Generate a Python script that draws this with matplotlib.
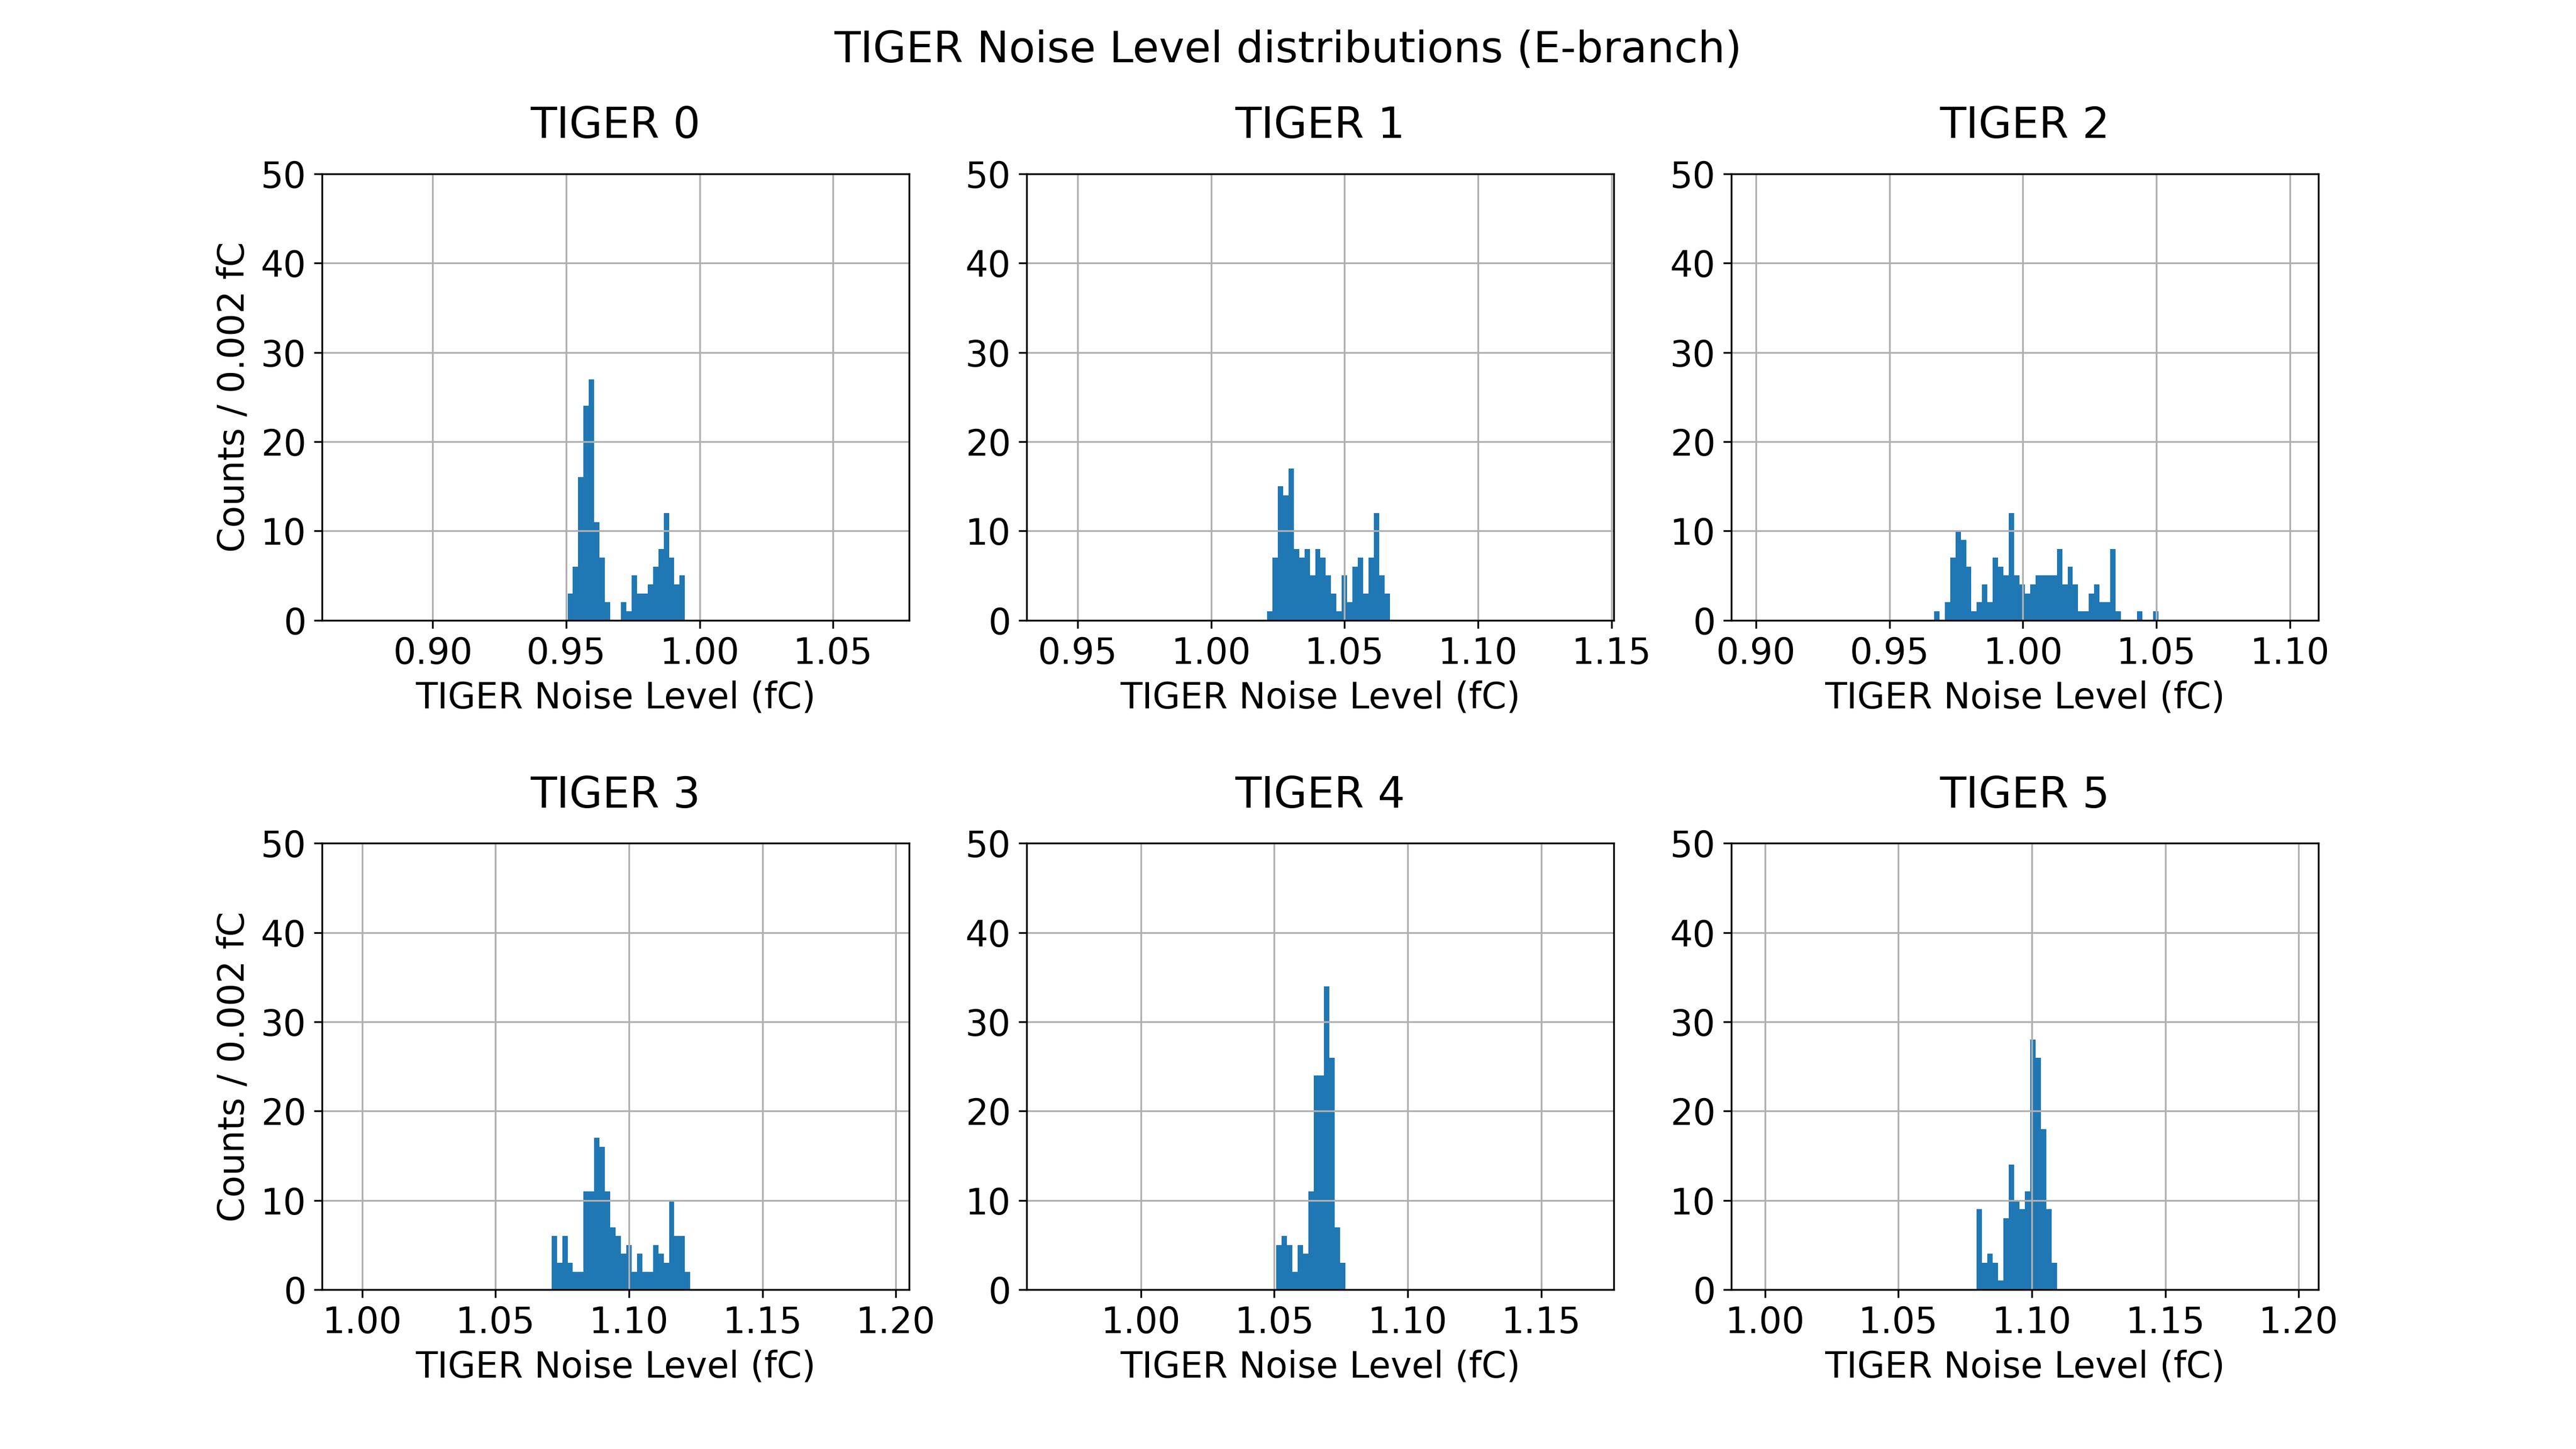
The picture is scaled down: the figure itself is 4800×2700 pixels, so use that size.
import numpy as np
import matplotlib
matplotlib.use('Agg')
import matplotlib.pyplot as plt

## TIGER noise level histograms (E-branch), counts per 0.002 fC bin

bin_width = 0.002
tiger_ids = [0, 1, 2, 3, 4, 5]

# left edge of the first filled bin for each TIGER
first_edge = [0.9505, 1.0210, 0.9667, 1.0710, 1.0507, 1.0794]

counts_t0 = [3, 6, 16, 24, 27, 11, 7, 2, 0, 0, 2, 1, 5, 3, 3, 4, 6, 8, 12, 7, 4, 5]
counts_t1 = [1, 7, 15, 14, 17, 8, 7, 8, 5, 8, 7, 5, 3, 1, 5, 2, 6, 7, 3, 7, 12, 5, 3]
counts_t2 = [1, 0, 2, 7, 10, 9, 6, 1, 2, 4, 2, 7, 6, 5, 12, 5, 4, 3, 4, 5, 5, 5, 5, 8,
             4, 6, 4, 1, 1, 3, 4, 2, 2, 8, 1, 0, 0, 0, 1, 0, 0, 1]
counts_t3 = [6, 3, 6, 3, 2, 2, 11, 11, 17, 16, 11, 7, 6, 4, 5, 2, 4, 2, 2, 5, 4, 3, 10, 6, 6, 2]
counts_t4 = [5, 6, 5, 2, 5, 4, 11, 24, 24, 34, 26, 7, 3]
counts_t5 = [9, 3, 4, 3, 1, 8, 14, 10, 9, 11, 28, 26, 18, 9, 3]

all_counts = [counts_t0, counts_t1, counts_t2, counts_t3, counts_t4, counts_t5]

# x range shown for each TIGER (lower end), all panels span 0.22 fC
xlim_lo = [0.8585, 0.9309, 0.8907, 0.9850, 0.9572, 0.9874]
xlim_span = 0.22

plt.rcParams['font.size'] = 16

fig, axs = plt.subplots(2, 3, figsize=(16, 9), dpi=300)
plt.subplots_adjust(hspace=0.5)
fig.suptitle('TIGER Noise Level distributions (E-branch)')

for i, ax in enumerate(axs.flat):
    counts = np.array(all_counts[i], dtype=float)
    edges = first_edge[i] + bin_width*np.arange(len(counts)+1)
    ax.hist(edges[:-1] + bin_width/2, bins=edges, weights=counts)
    ax.set_xlim(xlim_lo[i], xlim_lo[i] + xlim_span)
    ax.set_ylim(0, 50)
    ax.set_yticks([0, 10, 20, 30, 40, 50])
    ax.grid(True)
    ax.set_title(f'TIGER {tiger_ids[i]}', y=1.05)
    ax.set_xlabel('TIGER Noise Level (fC)')
    if i % 3 == 0:
        ax.set_ylabel('Counts / 0.002 fC')

plt.savefig('out.png', dpi=300)
plt.close()
